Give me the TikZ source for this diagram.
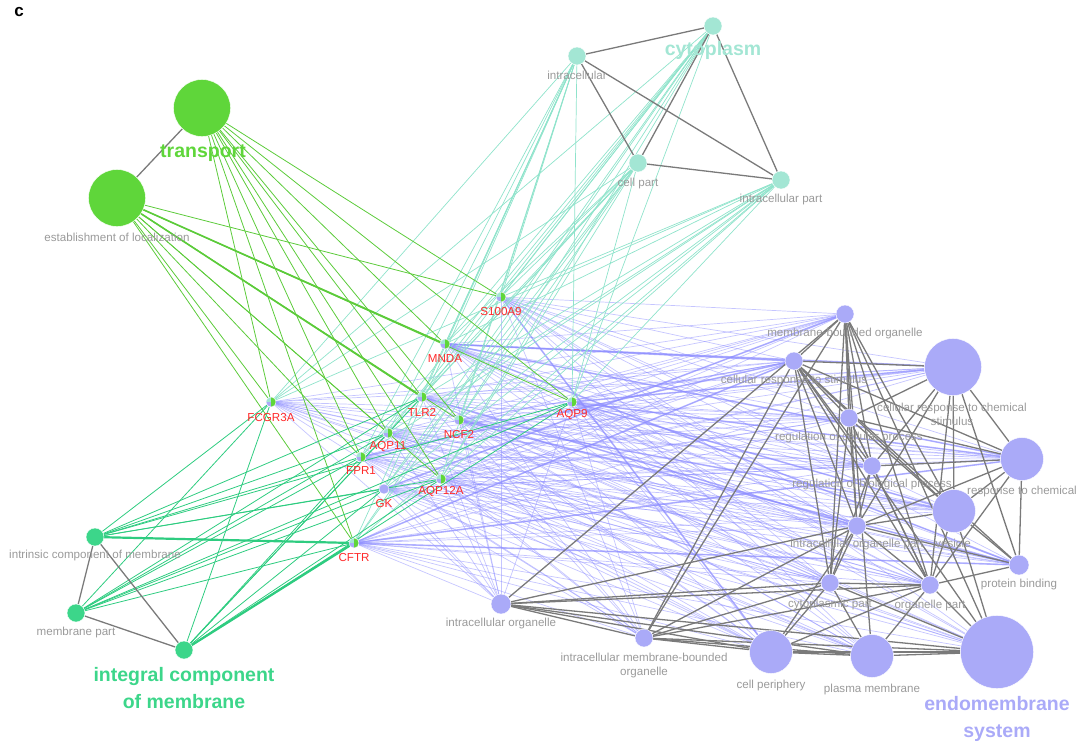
\documentclass[tikz,border=0pt]{standalone}
\usepackage{fontspec}
\setmainfont{Liberation Sans}
\pgfdeclarelayer{bg}
\pgfsetlayers{bg,main}
\definecolor{tgreen}{HTML}{5FD63A}
\definecolor{tgreenE}{HTML}{5CCB3A}
\definecolor{cyanN}{HTML}{A3E6D4}
\definecolor{cyanE}{HTML}{8FE3CB}
\definecolor{igreen}{HTML}{3CD68A}
\definecolor{igreenE}{HTML}{2ECC80}
\definecolor{lav}{HTML}{AAAAF8}
\definecolor{lavE}{HTML}{8C8CFF}
\definecolor{lblgray}{HTML}{9A9A9A}
\definecolor{edgegray}{HTML}{7A7A7A}
\definecolor{genered}{HTML}{FF2A2A}
\begin{document}
\begin{tikzpicture}[x=1pt,y=-1pt,
  term/.style={circle, inner sep=0pt, draw=white, line width=0.4pt},
  gene/.style={circle, minimum size=10pt, inner sep=0pt, fill=lav, draw=white, line width=0.3pt,
    path picture={
      \fill[tgreen] (path picture bounding box.north) rectangle (path picture bounding box.south east);
      \fill[cyanN] (path picture bounding box.center) rectangle (path picture bounding box.north west);
    }},
  glabel/.style={text=lblgray, font=\fontsize{11.6}{14}\selectfont, align=center, inner sep=0pt},
  rlabel/.style={text=genered, font=\fontsize{11.6}{14}\selectfont, inner sep=0pt},
  biglabel/.style={font=\bfseries\fontsize{19.5}{27}\selectfont, align=center, inner sep=0pt},
  tedge/.style={draw=tgreenE, line width=0.8pt},
  iedge/.style={draw=igreenE, line width=0.8pt},
  cedge/.style={draw=cyanE, line width=0.7pt},
  bedge/.style={draw=lavE, line width=0.7pt, draw opacity=0.5},
  gredge/.style={draw=edgegray, line width=1.3pt},
]
\useasboundingbox (0,0) rectangle (1080,748);

% panel letter
\node[font=\bfseries\fontsize{17}{19}\selectfont, inner sep=0pt] (panel) at (19,12) {c};

% transport cluster
\node[term, fill=tgreen, minimum size=57pt] (transport) at (202,108) {};
\node[term, fill=tgreen, minimum size=57pt] (estab) at (117,198) {};
% cytoplasm cluster
\node[term, fill=cyanN, minimum size=18pt] (cytoplasm) at (713,26) {};
\node[term, fill=cyanN, minimum size=18pt] (intracellular) at (577,56) {};
\node[term, fill=cyanN, minimum size=18pt] (cellpart) at (638,163) {};
\node[term, fill=cyanN, minimum size=18pt] (icpart) at (781,180) {};
% integral cluster
\node[term, fill=igreen, minimum size=18pt] (intrinsic) at (95,537) {};
\node[term, fill=igreen, minimum size=18pt] (mempart) at (76,613) {};
\node[term, fill=igreen, minimum size=18pt] (integral) at (184,650) {};
% endomembrane cluster
\node[term, fill=lav, minimum size=18pt] (mbo) at (845,314) {};
\node[term, fill=lav, minimum size=18pt] (crs) at (794,361) {};
\node[term, fill=lav, minimum size=57pt] (crcs) at (953,367) {};
\node[term, fill=lav, minimum size=18pt] (rcp) at (849,418) {};
\node[term, fill=lav, minimum size=43pt] (rtc) at (1022,459) {};
\node[term, fill=lav, minimum size=18pt] (rbp) at (872,466) {};
\node[term, fill=lav, minimum size=43pt] (ves) at (954,511) {};
\node[term, fill=lav, minimum size=18pt] (iop) at (857,526) {};
\node[term, fill=lav, minimum size=20pt] (pb) at (1019,565) {};
\node[term, fill=lav, minimum size=18pt] (cyp) at (830,583) {};
\node[term, fill=lav, minimum size=18pt] (op) at (930,585) {};
\node[term, fill=lav, minimum size=20pt] (io) at (501,604) {};
\node[term, fill=lav, minimum size=18pt] (imbo) at (644,638) {};
\node[term, fill=lav, minimum size=43pt] (cp) at (771,652) {};
\node[term, fill=lav, minimum size=43pt] (pm) at (872,656) {};
\node[term, fill=lav, minimum size=73pt] (ems) at (997,652) {};

% genes
\node[gene] (S100A9) at (501,297) {};
\node[gene] (MNDA) at (445,344) {};
\node[gene] (FCGR3A) at (271,402) {};
\node[gene] (TLR2) at (422,397) {};
\node[gene] (NCF2) at (459,420) {};
\node[gene] (AQP9) at (572,402) {};
\node[gene] (AQP11) at (388,433) {};
\node[gene] (FPR1) at (361,457) {};
\node[gene] (AQP12A) at (441,479) {};
\node[gene, path picture={}] (GK) at (384,489) {};
\node[gene] (CFTR) at (354,543) {};

\begin{pgfonlayer}{bg}
% blue edges: genes to endomembrane terms
\foreach \g in {S100A9,MNDA,FCGR3A,TLR2,NCF2,AQP9,AQP11,FPR1,AQP12A,GK,CFTR}{
  \foreach \t in {mbo,crs,crcs,rcp,rtc,rbp,ves,iop,pb,cyp,op,io,imbo,cp,pm,ems}{
    \draw[bedge] (\g) -- (\t);
  }
}
\foreach \g/\t in {MNDA/crs,MNDA/crcs,MNDA/rtc,MNDA/pb,AQP9/crcs,AQP9/rtc,AQP9/ves,NCF2/ves,NCF2/pb,CFTR/crs,CFTR/rtc,CFTR/pb,S100A9/cp,TLR2/iop,GK/mbo,FPR1/crs}{
  \draw[draw=lavE, line width=1.6pt, draw opacity=0.6] (\g) -- (\t);
}
% cyan edges
\foreach \g in {S100A9,MNDA,FCGR3A,TLR2,NCF2,AQP9,AQP11,FPR1,AQP12A,GK,CFTR}{
  \foreach \t in {cytoplasm,intracellular,cellpart,icpart}{
    \draw[cedge] (\g) -- (\t);
  }
}
% transport edges
\foreach \g in {S100A9,MNDA,FCGR3A,TLR2,NCF2,AQP9,AQP11,FPR1,AQP12A,CFTR}{
  \foreach \t in {transport,estab}{
    \draw[tedge] (\g) -- (\t);
  }
}
\draw[tedge, line width=1.6pt] (estab) -- (TLR2);
\draw[tedge, line width=1.6pt] (estab) -- (MNDA);
% integral edges
\foreach \g in {FCGR3A,TLR2,AQP9,AQP11,FPR1,AQP12A,GK,CFTR}{
  \foreach \t in {intrinsic,mempart,integral}{
    \draw[iedge] (\g) -- (\t);
  }
}
\draw[draw=igreenE, line width=2.2pt] (intrinsic) -- (CFTR);
\draw[draw=igreenE, line width=2.2pt] (integral) -- (CFTR);
% gray term-term edges
\draw[gredge] (transport) -- (estab);
\foreach \a/\b in {cytoplasm/intracellular,cytoplasm/cellpart,cytoplasm/icpart,intracellular/cellpart,intracellular/icpart,cellpart/icpart}{
  \draw[gredge] (\a) -- (\b);
}
\foreach \a/\b in {intrinsic/mempart,intrinsic/integral,mempart/integral}{
  \draw[gredge] (\a) -- (\b);
}
\foreach \a/\b in {io/mbo,io/cyp,io/op,io/ems,io/cp,io/pm,io/imbo,io/iop,
  imbo/mbo,imbo/cyp,imbo/op,imbo/ems,imbo/pm,imbo/iop,imbo/crs,imbo/cp,
  mbo/crs,mbo/rcp,mbo/rbp,mbo/iop,mbo/cyp,mbo/op,mbo/ves,mbo/pm,mbo/ems,
  crs/crcs,crs/rcp,crs/rbp,crs/ves,crs/iop,crs/op,crs/pb,crs/rtc,crs/cyp,crs/ems,
  crcs/rtc,crcs/rcp,crcs/rbp,crcs/ves,crcs/op,crcs/pb,crcs/iop,
  rtc/pb,rtc/ves,rtc/op,rtc/rbp,rtc/iop,rtc/rcp,
  rcp/rbp,rcp/iop,rcp/op,rcp/ves,rcp/cyp,
  rbp/iop,rbp/op,rbp/cyp,
  iop/cyp,iop/op,iop/ves,iop/pb,iop/cp,
  cyp/op,cyp/cp,cyp/pm,cyp/ems,
  op/pb,op/ems,op/cp,op/pm,op/ves,
  ves/pb,ves/ems,cp/pm,cp/ems,pm/ems}{
  \draw[gredge] (\a) -- (\b);
}
\end{pgfonlayer}

% term labels
\node[glabel] (Lestab) at (117,237) {establishment of localization};
\node[glabel] (Lintracellular) at (577,75) {intracellular};
\node[glabel] (Lcellpart) at (638,183) {cell part};
\node[glabel] (Licpart) at (781,199) {intracellular part};
\node[glabel] (Lintrinsic) at (95,555) {intrinsic component of membrane};
\node[glabel] (Lmempart) at (76,632) {membrane part};
\node[glabel] (Lmbo) at (845,333) {membrane-bounded organelle};
\node[glabel] (Lcrs) at (794,380) {cellular response to stimulus};
\node[glabel] (Lcrcs) at (952,414) {cellular response to chemical\\stimulus};
\node[glabel] (Lrcp) at (849,437) {regulation of cellular process};
\node[glabel] (Lrbp) at (872,484) {regulation of biological process};
\node[glabel] (Lrtc) at (1022,491) {response to chemical};
\node[glabel] (Lves) at (953,543) {vesicle};
\node[glabel] (Liop) at (857,544) {intracellular organelle part};
\node[glabel] (Lpb) at (1019,584) {protein binding};
\node[glabel] (Lcyp) at (830,604) {cytoplasmic part};
\node[glabel] (Lop) at (930,605) {organelle part};
\node[glabel] (Lio) at (501,623) {intracellular organelle};
\node[glabel] (Limbo) at (644,665) {intracellular membrane-bounded\\organelle};
\node[glabel] (Lcp) at (771,685) {cell periphery};
\node[glabel] (Lpm) at (872,689) {plasma membrane};

% cluster titles
\node[biglabel, text=tgreen] (Ltransport) at (203,153) {transport};
\node[biglabel, text=cyanN] (Lcytoplasm) at (713,50) {cytoplasm};
\node[biglabel, text=igreen] (Lintegral) at (184,688) {integral component\\of membrane};
\node[biglabel, text=lav] (Lems) at (997,719) {endomembrane\\system};

% gene labels
\node[rlabel] (LS100A9) at (501,311) {S100A9};
\node[rlabel] (LMNDA) at (445,359) {MNDA};
\node[rlabel] (LFCGR3A) at (271,417) {FCGR3A};
\node[rlabel] (LTLR2) at (422,412) {TLR2};
\node[rlabel] (LNCF2) at (459,434) {NCF2};
\node[rlabel] (LAQP9) at (572,415) {AQP9};
\node[rlabel] (LAQP11) at (388,447) {AQP11};
\node[rlabel] (LFPR1) at (361,471) {FPR1};
\node[rlabel] (LAQP12A) at (441,492) {AQP12A};
\node[rlabel] (LGK) at (384,503) {GK};
\node[rlabel] (LCFTR) at (354,557) {CFTR};
\end{tikzpicture}
\end{document}
